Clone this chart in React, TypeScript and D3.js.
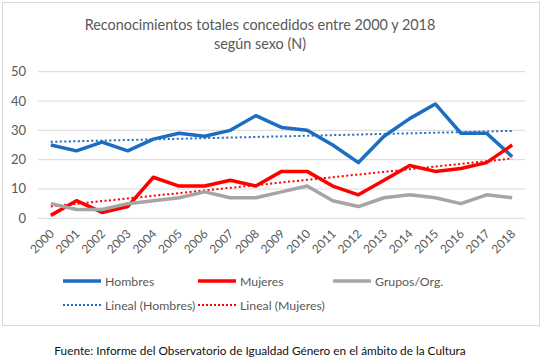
import React from "react";
import * as d3 from "d3";

const years = ["2000","2001","2002","2003","2004","2005","2006","2007","2008","2009","2010","2011","2012","2013","2014","2015","2016","2017","2018"];
const hombres = [25, 23, 26, 23, 27, 29, 28, 30, 35, 31, 30, 25, 19, 28, 34, 39, 29, 29, 21];
const mujeres = [1, 6, 2, 4, 14, 11, 11, 13, 11, 16, 16, 11, 8, 13, 18, 16, 17, 19, 25];
const grupos = [5, 3, 3, 5, 6, 7, 9, 7, 7, 9, 11, 6, 4, 7, 8, 7, 5, 8, 7];
const yTicks = [0, 10, 20, 30, 40, 50];
const titleLines = ["Reconocimientos totales concedidos entre 2000 y 2018", "según sexo (N)"];
const footer = "Fuente: Informe del Observatorio de Igualdad Género en el ámbito de la Cultura";

const BLUE = "#1B6EC2";
const RED = "#FF0000";
const GREY = "#A5A5A5";
const TXT = "#595959";
const FONT = "Lato, 'Open Sans', sans-serif";

function linreg(v: number[]) {
  const xs = v.map((_, i) => i);
  const mx = d3.mean(xs)!;
  const my = d3.mean(v)!;
  let num = 0, den = 0;
  xs.forEach((x, i) => { num += (x - mx) * (v[i] - my); den += (x - mx) ** 2; });
  const b = num / den;
  const a = my - b * mx;
  return v.map((_, i) => a + b * i);
}

export default function App() {
  const W = 545, H = 361;
  const x = d3.scaleBand<string>().domain(years).range([38, 525]);
  const y = d3.scaleLinear().domain([0, 50]).range([218.3, 71.7]);
  const cx = (d: string) => (x(d) as number) + x.bandwidth() / 2;
  const line = d3.line<number>().x((_, i) => cx(years[i])).y((d) => y(d));

  const series = [
    { name: "Hombres", data: hombres, color: BLUE },
    { name: "Mujeres", data: mujeres, color: RED },
    { name: "Grupos/Org.", data: grupos, color: GREY },
  ];
  const trends = [
    { name: "Lineal (Hombres)", data: linreg(hombres), color: BLUE },
    { name: "Lineal (Mujeres)", data: linreg(mujeres), color: RED },
  ];
  const legendRow1 = [63, 198, 333];
  const legendRow2 = [63, 198];

  return (
    <svg width={W} height={H} style={{ position: "absolute", left: 0, top: 0, background: "#fff" }} fontFamily={FONT}>
      <rect x={2.5} y={2.5} width={537} height={323} fill="#fff" stroke="#D9D9D9" strokeWidth={1} />
      {titleLines.map((t, i) => (
        <text key={i} x={260} y={30 + i * 19} textAnchor="middle" fontSize={14.4} fill={TXT}>{t}</text>
      ))}
      {yTicks.map((t) => (
        <g key={t}>
          <line x1={38} x2={525} y1={y(t)} y2={y(t)} stroke="#D9D9D9" strokeWidth={1} />
          <text x={26} y={y(t) + 4.5} textAnchor="end" fontSize={13} fill={TXT}>{t}</text>
        </g>
      ))}
      {years.map((yr) => (
        <text key={yr} transform={`translate(${cx(yr) + 4},${234.5}) rotate(-45)`} textAnchor="end" fontSize={12} fill={TXT}>{yr}</text>
      ))}
      {trends.map((s) => (
        <path key={s.name} d={line(s.data) || ""} fill="none" stroke={s.color} strokeWidth={2} strokeDasharray="2,2.5" />
      ))}
      {series.map((s) => (
        <path key={s.name} d={line(s.data) || ""} fill="none" stroke={s.color} strokeWidth={3.5} strokeLinejoin="round" />
      ))}
      {series.map((s, i) => (
        <g key={s.name}>
          <line x1={legendRow1[i]} x2={legendRow1[i] + 38} y1={281} y2={281} stroke={s.color} strokeWidth={3.5} />
          <text x={legendRow1[i] + 42} y={285.5} fontSize={12.3} fill={TXT}>{s.name}</text>
        </g>
      ))}
      {trends.map((s, i) => (
        <g key={s.name}>
          <line x1={legendRow2[i]} x2={legendRow2[i] + 38} y1={305} y2={305} stroke={s.color} strokeWidth={2} strokeDasharray="2,2" />
          <text x={legendRow2[i] + 42} y={309.5} fontSize={12.3} fill={TXT}>{s.name}</text>
        </g>
      ))}
      <text x={260} y={355} textAnchor="middle" fontSize={11.8} fill="#111">{footer}</text>
    </svg>
  );
}
